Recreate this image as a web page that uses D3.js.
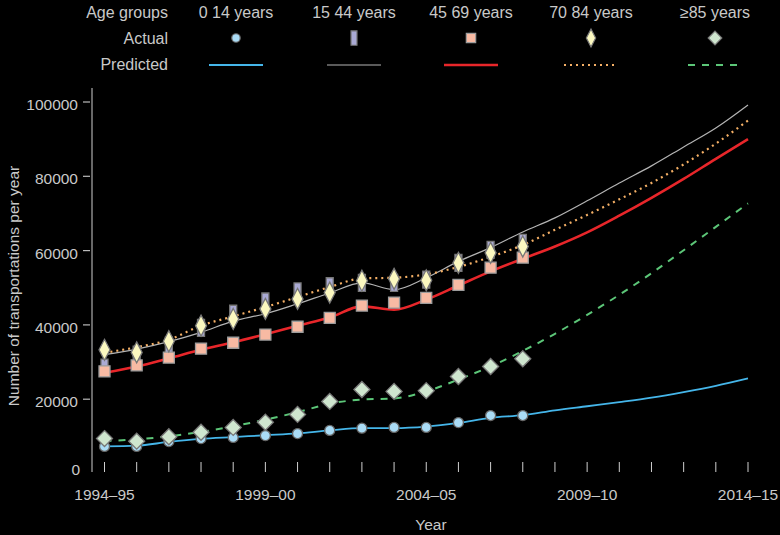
<!DOCTYPE html>
<html>
<head>
<meta charset="utf-8">
<script src="https://cdn.jsdelivr.net/npm/d3@7"></script>
<style>
  html, body { margin: 0; padding: 0; background: #000; }
  svg { display: block; }
  text { font-family: "Liberation Sans", Arial, sans-serif; fill: #c9c9c9; }
</style>
</head>
<body>
<svg width="780" height="535"></svg>
<script>
// anni (etichette asse x)
var anni = ["1994–95","1995–96","1996–97","1997–98","1998–99","1999–00","2000–01",
  "2001–02","2002–03","2003–04","2004–05","2005–06","2006–07","2007–08","2008–09",
  "2009–10","2010–11","2011–12","2012–13","2013–14","2014–15"];
var anniEtichette = ["1994–95","1999–00","2004–05","2009–10","2014–15"];
var yTicks = [0, 20000, 40000, 60000, 80000, 100000];

var gruppi = ["0 14 years", "15 44 years", "45 69 years", "70 84 years", "≥85 years"];

// valori osservati (1994–95 .. 2007–08)
var reale_0_14  = [7300, 7300, 8600, 9400, 9700, 10200, 10750, 11600, 12200, 12400, 12400, 13700, 15600, 15600];
var reale_15_44 = [28500, 32000, 34400, 39200, 43000, 46300, 49000, 50400, 51300, 51300, 52200, 56700, 60200, 62100];
var reale_45_69 = [27500, 29100, 31200, 33600, 35200, 37400, 39500, 41900, 45200, 46000, 47300, 50800, 55400, 58100];
var reale_70_84 = [33300, 32600, 35600, 39800, 41600, 44300, 47000, 48700, 51900, 52400, 52000, 56700, 59400, 61100];
var reale_85    = [9400, 8700, 9900, 11100, 12400, 13800, 15900, 19400, 22600, 22100, 22300, 26100, 28800, 30900];

// valori previsti (1994–95 .. 2014–15)
var prev_0_14  = [7300, 7500, 8500, 9300, 9800, 10300, 10800, 11600, 12200, 12200, 12600, 13600, 15000, 15700,
  17000, 18100, 19200, 20400, 21900, 23600, 25600];
var prev_15_44 = [32000, 33500, 35500, 38000, 41000, 43000, 45700, 48600, 51300, 49500, 52700, 57100, 60800, 65000,
  68800, 73400, 78200, 82800, 87900, 93000, 99200];
var prev_45_69 = [27100, 28800, 31000, 33300, 35300, 37500, 39800, 42000, 45000, 44100, 46800, 50600, 54400, 57800,
  61100, 64900, 69400, 74200, 79300, 84700, 90000];
var prev_70_84 = [32500, 34000, 36000, 39800, 42300, 44800, 47500, 50200, 52500, 52700, 53600, 55600, 58300, 61500,
  65600, 69600, 73800, 78200, 83200, 88800, 95000];
var prev_85    = [8700, 9200, 10000, 11200, 12700, 14500, 16500, 18800, 19900, 20200, 22100, 25300, 28800, 33000,
  37600, 42700, 48100, 53900, 60100, 66400, 72700];

var colori_linea = ["#45b6ea", "#b4b4b4", "#e8262a", "#f5b066", "#5cc678"];
var spessori     = [1.8, 1.2, 2.6, 2.2, 2];
var tratteggi    = [null, null, null, "2,4", "7,7"];
var riempimenti  = ["#aadcf6", "#aaaad4", "#f8baa3", "#fbf8c0", "#cfe6cf"];
var bordi        = ["#666", "#777", "#9c9c9c", "#777", "#777"];

var reali = [reale_0_14, reale_15_44, reale_45_69, reale_70_84, reale_85];
var previsti = [prev_0_14, prev_15_44, prev_45_69, prev_70_84, prev_85];

var svg = d3.select("svg");

var x = d3.scalePoint().domain(anni).range([104.5, 748]);
var y = d3.scaleLinear().domain([0, 100000]).range([473.5, 102]);

// ASSI
var asse = svg.append("g").attr("class", "assi");
asse.append("line")
  .attr("x1", 92).attr("x2", 92).attr("y1", 88).attr("y2", 472)
  .attr("stroke", "#cfcfcf").attr("stroke-width", 1);

yTicks.forEach(function(t){
  if (t > 0){
    asse.append("line")
      .attr("x1", 83).attr("x2", 90).attr("y1", y(t)).attr("y2", y(t))
      .attr("stroke", "#bbb").attr("stroke-width", 1.2);
  }
  asse.append("text")
    .attr("x", t > 0 ? 78 : 80).attr("y", t > 0 ? y(t) + 8 : y(t) + 1)
    .attr("text-anchor", "end")
    .attr("font-size", 15.5)
    .text(t);
});

anni.forEach(function(a){
  asse.append("line")
    .attr("x1", x(a)).attr("x2", x(a)).attr("y1", 462).attr("y2", 472)
    .attr("stroke", "#cfcfcf").attr("stroke-width", 1);
});
anniEtichette.forEach(function(a){
  asse.append("text")
    .attr("x", x(a)).attr("y", 500)
    .attr("text-anchor", "middle")
    .attr("font-size", 15.5)
    .text(a);
});

asse.append("text")
  .attr("x", 431).attr("y", 530)
  .attr("text-anchor", "middle")
  .attr("font-size", 15.5)
  .text("Year");

asse.append("text")
  .attr("transform", "translate(19,286) rotate(-90)")
  .attr("text-anchor", "middle")
  .attr("font-size", 15.5)
  .text("Number of transportations per year");

// LINEE PREVISTE
var linea = d3.line()
  .x(function(d, i){ return x(anni[i]); })
  .y(function(d){ return y(d); })
  .curve(d3.curveMonotoneX);

var linee = svg.append("g").attr("class", "linee");
[4, 0, 2, 1, 3].forEach(function(k){
  linee.append("path")
    .attr("d", linea(previsti[k]))
    .attr("fill", "none")
    .attr("stroke", colori_linea[k])
    .attr("stroke-width", spessori[k])
    .attr("stroke-dasharray", tratteggi[k]);
});

// MARCATORI
function forma(k, s){
  // s = scala (1 nel grafico, piu' piccolo in legenda)
  if (k == 0){
    var r = 5 * s;
    return "M" + (-r) + ",0A" + r + "," + r + " 0 1,0 " + r + ",0A" + r + "," + r + " 0 1,0 " + (-r) + ",0Z";
  }
  if (k == 1){
    var w = 3.5 * s, h = 8.5 * s;
    return "M" + (-w) + "," + (-h) + "H" + w + "V" + h + "H" + (-w) + "Z";
  }
  if (k == 2){
    var q = 5.5 * s;
    return "M" + (-q) + "," + (-q) + "H" + q + "V" + q + "H" + (-q) + "Z";
  }
  if (k == 3){
    var a = 5.5 * s, b = 10.5 * s;
    return "M0," + (-b) + "L" + a + ",0L0," + b + "L" + (-a) + ",0Z";
  }
  var c = 8 * s;
  return "M0," + (-c) + "L" + c + ",0L0," + c + "L" + (-c) + ",0Z";
}

var punti = svg.append("g").attr("class", "punti");
[0, 4, 1, 2, 3].forEach(function(k){
  punti.selectAll(null)
    .data(reali[k])
    .enter().append("path")
    .attr("transform", function(d, i){ return "translate(" + x(anni[i]) + "," + y(d) + ")"; })
    .attr("d", forma(k, 1))
    .attr("fill", riempimenti[k])
    .attr("stroke", bordi[k])
    .attr("stroke-width", 1.3);
});

// LEGENDA
var leg = svg.append("g").attr("class", "legenda");
var legX = [236, 354, 471, 591, 715];
leg.append("text").attr("x", 168).attr("y", 18).attr("text-anchor", "end").attr("font-size", 16).text("Age groups");
leg.append("text").attr("x", 168).attr("y", 44).attr("text-anchor", "end").attr("font-size", 16).text("Actual");
leg.append("text").attr("x", 168).attr("y", 70).attr("text-anchor", "end").attr("font-size", 16).text("Predicted");

gruppi.forEach(function(g, k){
  leg.append("text")
    .attr("x", legX[k]).attr("y", 18)
    .attr("text-anchor", "middle")
    .attr("font-size", 16)
    .text(g);
  leg.append("path")
    .attr("transform", "translate(" + legX[k] + ",38)")
    .attr("d", forma(k, 0.85))
    .attr("fill", riempimenti[k])
    .attr("stroke", bordi[k])
    .attr("stroke-width", 1.2);
  leg.append("line")
    .attr("x1", legX[k] - 27).attr("x2", legX[k] + 27)
    .attr("y1", 65).attr("y2", 65)
    .attr("stroke", colori_linea[k])
    .attr("stroke-width", spessori[k])
    .attr("stroke-dasharray", tratteggi[k]);
});
</script>
</body>
</html>
